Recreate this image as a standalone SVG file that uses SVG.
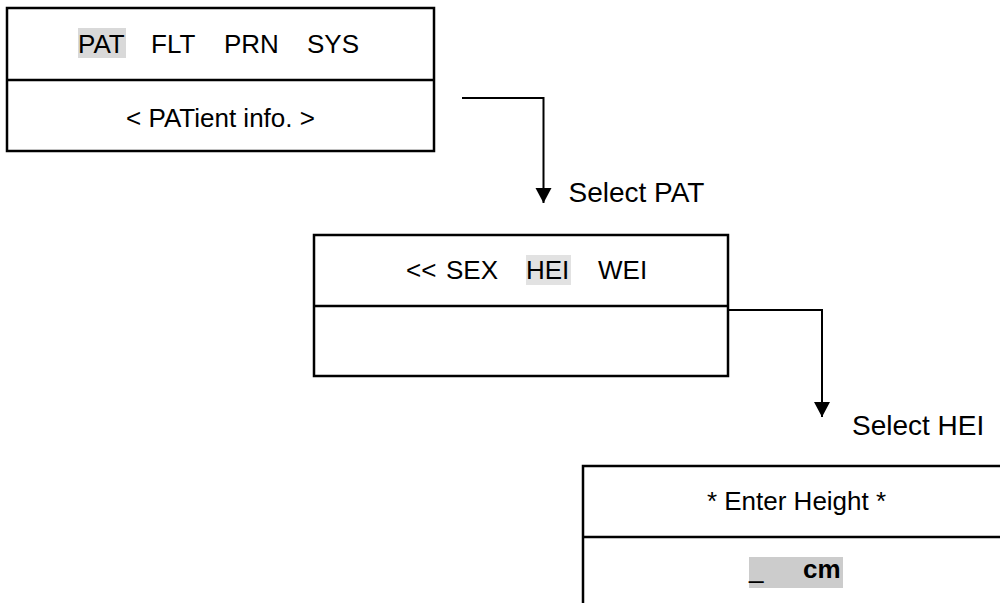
<svg xmlns="http://www.w3.org/2000/svg" width="1000" height="603" viewBox="0 0 1000 603">
<style>
  .box { fill: #ffffff; stroke: #000000; stroke-width: 2.5; }
  .div { stroke: #000000; stroke-width: 2.5; }
  .t { font-family: "Liberation Sans", Arial, sans-serif; font-size: 26px; fill: #000000; }
  .lbl { font-family: "Liberation Sans", Arial, sans-serif; font-size: 28px; fill: #000000; }
  .conn { fill: none; stroke: #000000; stroke-width: 2; }
</style>
<defs>
  <marker id="arrow" markerUnits="userSpaceOnUse" markerWidth="18" markerHeight="18" viewBox="0 0 18 18" refX="15" refY="9" orient="auto">
    <path d="M0,1 L15,9 L0,17 Z" fill="#000000"/>
  </marker>
</defs>
<g id="connectors">
  <path class="conn" d="M462,98 H543.5 V203" marker-end="url(#arrow)"/>
  <path class="conn" d="M728,310 H822 V417" marker-end="url(#arrow)"/>
  <text class="lbl" x="568.5" y="202">Select PAT</text>
  <text class="lbl" x="852" y="435">Select HEI</text>
</g>
<g id="node-main-menu">
  <rect class="box" x="7" y="8" width="427" height="143"/>
  <line class="div" x1="7" y1="80" x2="434" y2="80"/>
  <rect x="78" y="28" width="48" height="30" fill="#d9d9d9"/>
  <text class="t" y="53"><tspan x="78">PAT</tspan><tspan x="151">FLT</tspan><tspan x="224">PRN</tspan><tspan x="307">SYS</tspan></text>
  <text class="t" x="220.5" y="127" text-anchor="middle">&lt; PATient info. &gt;</text>
</g>
<g id="node-patient-menu">
  <rect class="box" x="314" y="235" width="414" height="141"/>
  <line class="div" x1="314" y1="306" x2="728" y2="306"/>
  <rect x="526" y="255" width="45" height="30" fill="#e2e2e2"/>
  <text class="t" y="279"><tspan x="406">&lt;&lt;</tspan><tspan x="446">SEX</tspan><tspan x="526">HEI</tspan><tspan x="598">WEI</tspan></text>
</g>
<g id="node-enter-height">
  <rect class="box" x="583" y="466" width="440" height="160"/>
  <line class="div" x1="583" y1="537" x2="1023" y2="537"/>
  <rect x="749" y="557" width="94" height="31" fill="#cccccc"/>
  <text class="t" x="796.5" y="510" text-anchor="middle">* Enter Height *</text>
  <text class="t" y="578"><tspan x="749">_</tspan><tspan x="803" font-weight="bold">cm</tspan></text>
</g>
</svg>
